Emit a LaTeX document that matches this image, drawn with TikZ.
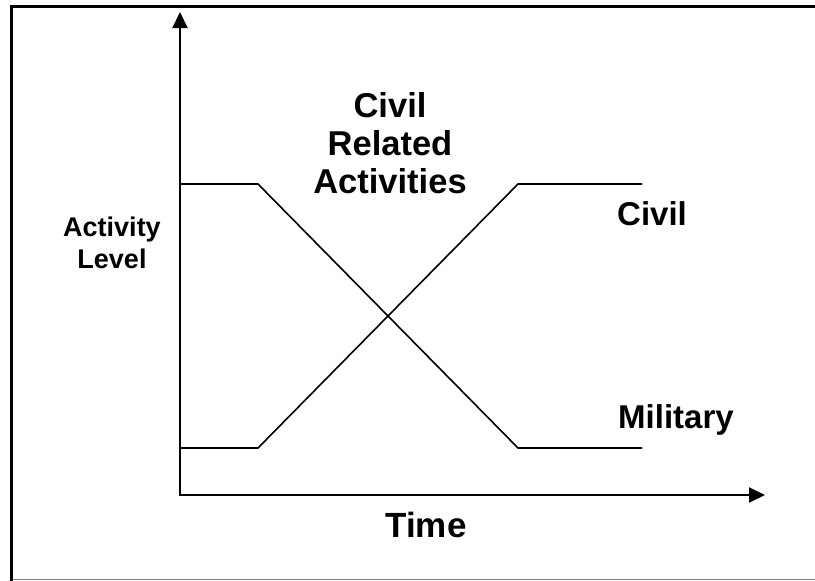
\documentclass[tikz,border=0pt]{standalone}
\usepackage{fontspec}
\setmainfont{Liberation Sans}
\usetikzlibrary{arrows.meta}

\begin{document}
\begin{tikzpicture}[x=1pt,y=-1pt,
    axis/.style={line width=2pt,{Triangle[length=16pt,width=15pt]}-{Triangle[length=16pt,width=15pt]}},
    level/.style={line width=1.6pt},
    lbl/.style={inner sep=0pt,font=\bfseries\fontsize{33}{38}\selectfont}]
	\useasboundingbox (0,0) rectangle (815,581);
	% frame
	\draw[gray,line width=1pt] (11,579.5) -- (815,579.5);
	\draw[line width=3pt] (11,581) -- (11,6) -- (815,6);
	% axes
	\coordinate (origin) at (180,495);
	\coordinate (ytip) at (180,12);
	\coordinate (xtip) at (765,495);
	\draw[axis] (ytip) -- (origin) -- (xtip);
	% levels
	\draw[level] (180,184) -- (258,184) -- (518,448) -- (642,448);
	\draw[level] (180,448) -- (258,448) -- (518,184) -- (642,184);
	% labels (base = last line)
	\node[lbl,align=center,anchor=base,font=\bfseries\fontsize{34.5}{38}\selectfont] (related) at (390,193) {Civil\\Related\\Activities};
	\node[lbl,anchor=base west] (civil) at (617,225) {Civil};
	\node[lbl,anchor=base west] (military) at (618,428) {Military};
	\node[lbl,anchor=base,font=\bfseries\fontsize{35}{38}\selectfont] (time) at (426,537) {Time};
	\node[lbl,align=center,anchor=base,font=\bfseries\fontsize{27}{31.5}\selectfont] (level) at (112,268) {Activity\\Level};
\end{tikzpicture}
\end{document}
